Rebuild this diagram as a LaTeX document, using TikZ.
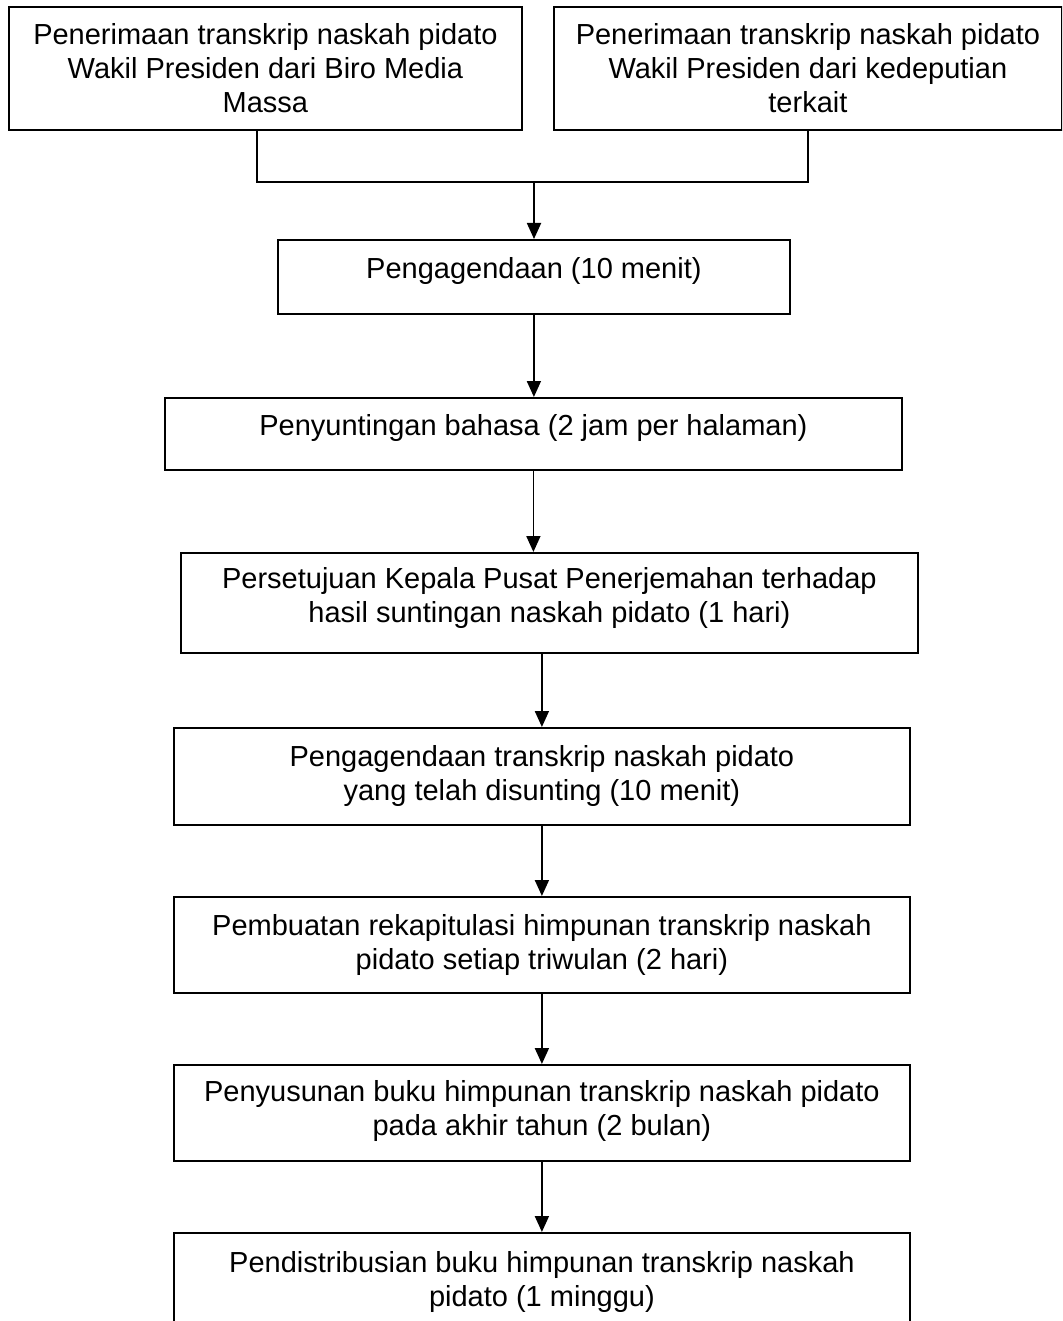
\documentclass[tikz,border=0pt]{standalone}
\usepackage{fontspec}
\setmainfont{Liberation Sans}
\usetikzlibrary{arrows.meta,calc}
\begin{document}
\begin{tikzpicture}[x=1pt,y=-1pt,
  box/.style={draw, line width=1.8pt, rectangle, inner sep=0pt, anchor=north west},
  txt/.style={align=center, inner sep=0pt, font=\fontsize{29pt}{34pt}\selectfont},
  conn/.style={line width=1.8pt},
  arr/.style={line width=1.8pt, -{Triangle[length=16pt,width=14pt]}}]
\useasboundingbox (0,0) rectangle (1062,1321);
\clip (0,0) rectangle (1062,1321);
% boxes
\node[box, minimum width=513pt, minimum height=123pt] (b1) at (8,6) {};
\node[box, minimum width=508pt, minimum height=123pt] (b2) at (553,6) {};
\node[box, minimum width=512pt, minimum height=74pt] (b3) at (277,239) {};
\node[box, minimum width=737pt, minimum height=72pt] (b4) at (164,397) {};
\node[box, minimum width=737pt, minimum height=100pt] (b5) at (180,552) {};
\node[box, minimum width=736pt, minimum height=97pt] (b6) at (173,727) {};
\node[box, minimum width=736pt, minimum height=96pt] (b7) at (173,896) {};
\node[box, minimum width=736pt, minimum height=96pt] (b8) at (173,1064) {};
\node[box, minimum width=736pt, minimum height=98pt] (b9) at (173,1232) {};
% texts
\node[txt] (t1) at (b1.center) {Penerimaan transkrip naskah pidato\\Wakil Presiden dari Biro Media\\Massa};
\node[txt] (t2) at (b2.center) {Penerimaan transkrip naskah pidato\\Wakil Presiden dari kedeputian\\terkait};
\node[txt] (t3) at ($(b3.center)+(0,-6)$) {Pengagendaan (10 menit)};
\node[txt] (t4) at ($(b4.center)+(0,-6)$) {Penyuntingan bahasa (2 jam per halaman)};
\node[txt] (t5) at ($(b5.center)+(0,-5)$) {Persetujuan Kepala Pusat Penerjemahan terhadap\\hasil suntingan naskah pidato (1 hari)};
\node[txt] (t6) at (b6.center) {Pengagendaan transkrip naskah pidato\\yang telah disunting (10 menit)};
\node[txt] (t7) at (b7.center) {Pembuatan rekapitulasi himpunan transkrip naskah\\pidato setiap triwulan (2 hari)};
\node[txt] (t8) at ($(b8.center)+(0,-2)$) {Penyusunan buku himpunan transkrip naskah pidato\\pada akhir tahun (2 bulan)};
\node[txt] (t9) at (b9.center) {Pendistribusian buku himpunan transkrip naskah\\pidato (1 minggu)};
% connectors
\coordinate (j1) at (257,182);
\coordinate (j2) at (808,182);
\coordinate (j3) at (534,182);
\draw[conn] (b1.south -| j1) -- (j1) -- (j2) -- (b2.south -| j2);
\draw[arr] (j3) -- (b3.north -| j3);
\draw[arr] (b3.south) -- (b3.south |- b4.north);
\draw[arr] (b4.south) -- (b4.south |- b5.north);
\draw[arr] (b6.north |- b5.south) -- (b6.north);
\draw[arr] (b6.south) -- (b7.north);
\draw[arr] (b7.south) -- (b8.north);
\draw[arr] (b8.south) -- (b9.north);
\end{tikzpicture}
\end{document}
